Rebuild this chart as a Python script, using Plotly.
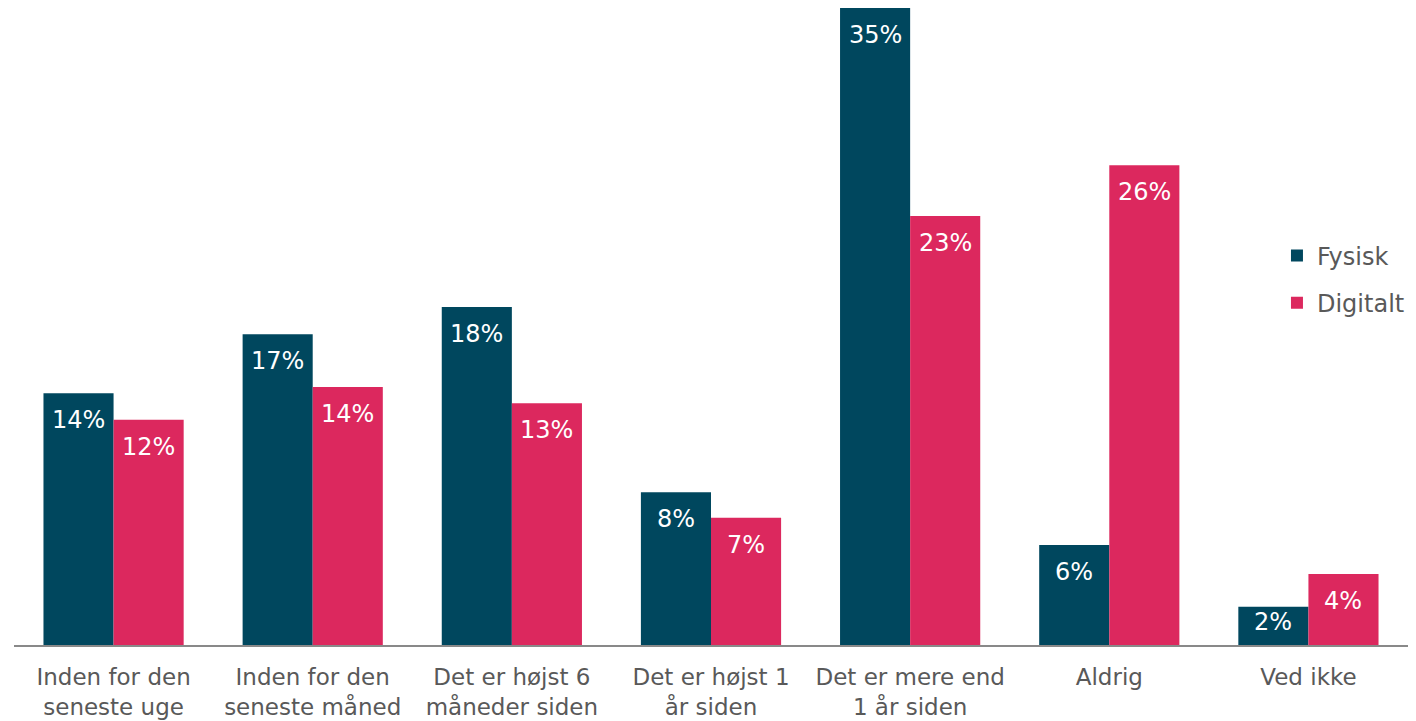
import plotly.graph_objects as go

categories = [
    "Inden for den<br>seneste uge",
    "Inden for den<br>seneste måned",
    "Det er højst 6<br>måneder siden",
    "Det er højst 1<br>år siden",
    "Det er mere end<br>1 år siden",
    "Aldrig",
    "Ved ikke",
]
fysisk = [13.85, 17.1, 18.6, 8.4, 35.05, 5.5, 2.1]
digitalt = [12.4, 14.2, 13.3, 7.0, 23.6, 26.4, 3.9]
fysisk_labels = ["14%", "17%", "18%", "8%", "35%", "6%", "2%"]
digitalt_labels = ["12%", "14%", "13%", "7%", "23%", "26%", "4%"]

FONT = "Verdana, DejaVu Sans, sans-serif"
YMAX = 35.05
PLOT_H = 637
BAR_W_PX = 70

fig = go.Figure()
fig.add_trace(go.Bar(x=categories, y=fysisk, name="Fysisk", marker_color="#00475E",
                     marker_line_width=0, legendgroup="a"))
fig.add_trace(go.Bar(x=categories, y=digitalt, name="Digitalt", marker_color="#DC285E",
                     marker_line_width=0, legendgroup="b"))

for vals, labels, shift in ((fysisk, fysisk_labels, -BAR_W_PX / 2), (digitalt, digitalt_labels, BAR_W_PX / 2)):
    for c, v, t in zip(categories, vals, labels):
        px = v / YMAX * PLOT_H
        off = 27 if px > 60 else 15
        fig.add_annotation(x=c, y=v, text=t, showarrow=False, xshift=shift, yshift=-off,
                           yanchor="middle", font=dict(color="white", size=24, family=FONT))

fig.update_layout(
    width=1408, height=713,
    margin=dict(l=6, r=8, t=0, b=76),
    barmode="group", bargap=0.296, bargroupgap=0,
    plot_bgcolor="white", paper_bgcolor="white",
    font=dict(family=FONT, size=24, color="#595959"),
    legend=dict(x=0.906, y=0.646, xanchor="left", yanchor="top",
                traceorder="grouped", tracegroupgap=13,
                font=dict(size=24, color="#595959", family=FONT),
                bgcolor="rgba(0,0,0,0)"),
    xaxis=dict(showline=True, linecolor="#898989", linewidth=1.5, ticks="outside",
               ticklen=11, tickcolor="rgba(0,0,0,0)", automargin=False,
               tickfont=dict(size=23, color="#595959", family=FONT)),
    yaxis=dict(visible=False, range=[0, YMAX], showgrid=False, automargin=False),
)
fig.write_html("out.html")
